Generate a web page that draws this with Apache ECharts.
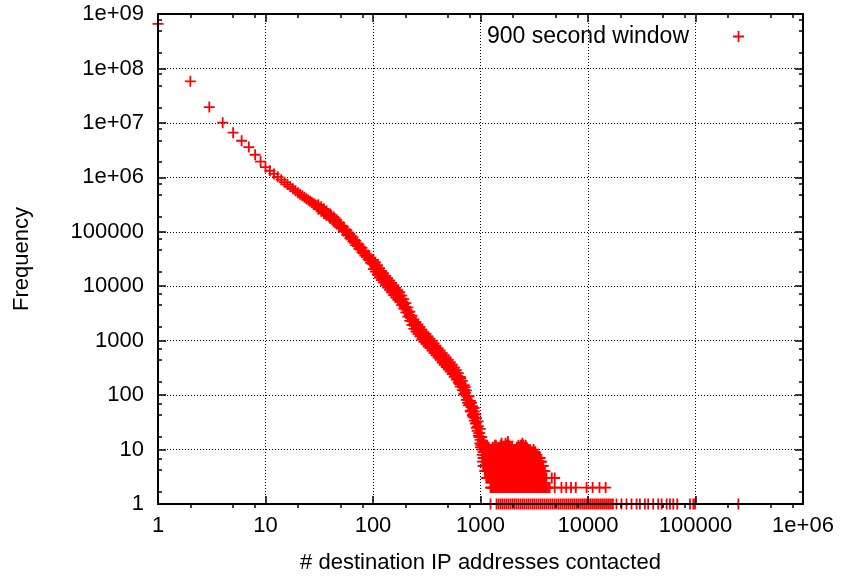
<!DOCTYPE html>
<html>
<head>
<meta charset="utf-8">
<script src="https://cdn.jsdelivr.net/npm/echarts@6/dist/echarts.min.js"></script>
<style>
html, body { margin: 0; padding: 0; background: #fff; }
#chart { width: 843px; height: 579px; }
</style>
</head>
<body>
<div id="chart"></div>
<script>
// 900 second window: how many hosts contacted N destination addresses
var seriesName = '900 second window';

// main curve
var curveX = [1, 2, 3, 4, 5, 6, 7, 8, 9, 10, 11, 12, 13, 14, 15, 16, 17, 18, 19, 20,
	21, 22, 23, 24, 25, 26, 27, 28, 29, 30, 31, 32, 33, 34, 35, 36, 37, 38, 39, 40,
	41, 42, 43, 44, 45, 46, 47, 48, 49, 50, 52, 54, 56, 58, 60, 62, 64, 66, 68, 70,
	72, 74, 77, 80, 83, 86, 89, 92, 95, 98,
	100, 103, 106, 109, 112, 115, 118, 121, 125, 129, 133, 137, 141, 145, 150, 155, 160, 165, 170, 176,
	182, 188, 194, 200, 206, 212, 218, 225, 232, 239, 246, 254, 262, 270, 279, 288, 297, 306, 316, 326,
	336, 347, 358, 369, 381, 393, 405, 418, 431, 445, 459, 473, 488, 503, 519, 535, 552, 569, 587, 605,
	624, 643, 663, 683, 704, 725, 747, 769, 792, 815, 839, 863, 888, 913, 939, 965, 992];
var curveY = [6.6e8, 5.8e7, 1.95e7, 1.01e7, 6.6e6, 4.7e6, 3.6e6, 2.6e6, 1.95e6,
	1540000, 1320000, 1155000, 1020000, 905000, 815000, 738000, 672000, 615000, 566000, 523000,
	487000, 457000, 430000, 406000, 384000, 364000, 346000, 329000, 314000, 300000,
	286000, 273000, 261000, 250000, 239000, 229000, 219000, 210000, 201000, 193000,
	185000, 178000, 171000, 164000, 158000, 151000, 144000, 138000, 133000, 128000,
	118000, 109000, 101000, 93500, 87000, 81000, 75500, 70500, 65500, 61000,
	57000, 53500, 48500, 44500, 41000, 37500, 34500, 32000, 29500, 27000,
	25700, 23800, 22000, 20400, 18900, 17600, 16400, 15300, 14200, 13200,
	12300, 11500, 10900, 10100, 9300, 8600, 7950, 7390, 6950, 6460,
	5800, 5200, 4660, 4180, 3730, 3310, 2940, 2560, 2270, 2020,
	1880, 1740, 1620, 1510, 1370, 1240, 1160, 1100, 1035, 973,
	914, 848, 789, 733, 676, 631, 592, 553, 512, 473,
	440, 411, 385, 362, 339, 314, 290, 267, 245, 225,
	204, 182, 163, 144, 127, 110, 94, 80, 68, 60,
	52, 45, 38, 31, 26, 20, 15];

// points lying above and below the curve (they make the band thick)
var spreadX = [31, 33, 35, 37, 40, 43, 46, 49, 53, 57, 61, 65, 69, 74, 79, 84, 90, 95,
	101, 105, 110, 115, 120, 125, 131, 137, 143, 149, 156, 163, 170, 177, 185, 193, 202, 211,
	220, 230, 240, 251, 262, 273, 285, 298, 311, 325, 339, 354, 370, 386, 403, 421,
	440, 460, 480, 501, 523, 546, 570, 595, 621, 649, 677, 707, 738, 771, 804, 840,
	876, 915, 955, 985];
var spreadHigh = [315000, 287000, 263000, 241000, 212000, 188000, 166000, 146000, 124000, 107000,
	92000, 80000, 69000, 58800, 50600, 44000, 37400, 32500,
	30600, 27600, 24300, 21500, 19100, 17300, 15500, 14000, 12800, 11500, 10300, 9300,
	8500, 7750, 6700, 5800, 4900, 4100, 3400, 2870, 2450, 2180, 1980, 1790,
	1560, 1410, 1330, 1195, 1090, 990, 890, 800, 730, 665,
	590, 535, 488, 445, 405, 364, 323, 288, 254, 215, 183, 152, 122, 96, 78, 63,
	50, 38, 27, 20];
var spreadLow = [260000, 237000, 217000, 199000, 175000, 155000, 137000, 121000, 103000, 88000,
	76000, 66000, 57000, 48600, 41800, 36400, 30900, 26800,
	20600, 18500, 16300, 14400, 12900, 11600, 10400, 9400, 8600, 7750, 6900, 6200,
	5700, 5200, 4500, 3900, 3300, 2770, 2300, 1930, 1640, 1470, 1330, 1200,
	1050, 950, 890, 800, 735, 665, 600, 537, 490, 447,
	396, 359, 328, 300, 272, 244, 217, 193, 170, 144, 123, 102, 82, 65, 52, 43,
	34, 25, 18, 13];

// scattered points where the curve runs into the noise
var noiseX = [640, 655, 700, 720, 760, 780, 810, 825, 850, 870, 895, 905, 930, 950, 975, 995, 1000, 1010, 1025];
var noiseY = [160, 200, 105, 140, 72, 95, 50, 72, 40, 58, 30, 44, 22, 33, 17, 24, 11, 12, 17];

// the dense block between 1000 and 4500: each column and the counts seen in it
var cloudX = [1040, 1075, 1115, 1150, 1190, 1235, 1275, 1320, 1365, 1415, 1465, 1515, 1570, 1625, 1680,
	1740, 1800, 1865, 1930, 1995, 2065, 2140, 2215, 2290, 2370, 2455, 2540, 2630, 2720, 2815,
	2915, 3015, 3120, 3230, 3345, 3460, 3580, 3705, 3835, 3970, 4110, 4250, 4400];
var cloudLevels = [
	[6, 8, 10, 12, 14], [5, 7, 9, 11, 13], [4, 6, 8, 10, 12], [3, 4, 6, 8, 10, 12], [3, 4, 6, 8, 10, 11],
	[3, 4, 6, 8, 10], [2, 3, 4, 6, 8, 10], [2, 3, 4, 6, 8, 10], [2, 3, 4, 6, 8, 10, 12], [2, 3, 4, 6, 8, 10, 11],
	[2, 3, 4, 6, 8, 10], [2, 3, 4, 6, 8, 10], [2, 3, 4, 6, 8, 10, 13], [2, 3, 4, 6, 8, 10, 11], [2, 3, 4, 6, 8, 10],
	[2, 3, 4, 6, 8, 10, 12], [2, 3, 4, 6, 8, 10, 12, 14], [2, 3, 4, 6, 8, 10, 11], [2, 3, 4, 6, 8, 9], [2, 3, 4, 6, 8, 10],
	[2, 3, 4, 6, 8, 9], [2, 3, 4, 6, 8, 10], [2, 3, 4, 6, 8, 10], [2, 3, 4, 6, 8, 10, 11], [2, 3, 4, 6, 8, 10, 12],
	[2, 3, 4, 6, 8, 10, 13], [2, 3, 4, 6, 8, 10, 11], [2, 3, 4, 6, 8, 10, 12], [2, 3, 4, 6, 8, 10], [2, 3, 4, 6, 8, 9],
	[2, 3, 4, 6, 8, 9], [2, 3, 4, 6, 8], [2, 3, 4, 6, 8, 10], [2, 3, 4, 6, 8, 9], [2, 3, 4, 6, 8],
	[2, 3, 4, 6, 7], [2, 3, 4, 6, 7], [2, 3, 4, 6], [2, 3, 4, 5], [2, 3, 4],
	[2, 3], [2], [2]];
var cloudMidX = [1057, 1095, 1132, 1170, 1212, 1255, 1297, 1342, 1390, 1440, 1490, 1542, 1597, 1652, 1710,
	1770, 1832, 1897, 1962, 2030, 2102, 2177, 2252, 2330, 2412, 2497, 2585, 2675, 2767, 2865,
	2965, 3067, 3175, 3287, 3402, 3520, 3642, 3770, 3902, 4040];
var cloudMidLevels = [
	[5, 7, 9, 11, 13], [4, 5, 7, 9, 11], [3, 5, 7, 9, 11], [3, 5, 7, 9, 11], [3, 5, 7, 9],
	[2, 3, 5, 7, 9], [2, 3, 5, 7, 9, 11], [2, 3, 5, 7, 9, 11], [2, 3, 5, 7, 9, 12], [2, 3, 5, 7, 9],
	[2, 3, 5, 7, 9, 11], [2, 3, 5, 7, 9, 12], [2, 3, 5, 7, 9, 11], [2, 3, 5, 7, 9, 11], [2, 3, 5, 7, 9, 13],
	[2, 3, 5, 7, 9, 11], [2, 3, 5, 7, 9, 12], [2, 3, 5, 7, 9, 10], [2, 3, 5, 7, 9, 11], [2, 3, 5, 7, 9],
	[2, 3, 5, 7, 9, 10], [2, 3, 5, 7, 9, 11], [2, 3, 5, 7, 9, 12], [2, 3, 5, 7, 9, 11], [2, 3, 5, 7, 9, 12],
	[2, 3, 5, 7, 9, 12], [2, 3, 5, 7, 9, 11], [2, 3, 5, 7, 9, 11], [2, 3, 5, 7, 9, 10], [2, 3, 5, 7, 9],
	[2, 3, 5, 7, 9], [2, 3, 5, 7, 9], [2, 3, 5, 7, 9], [2, 3, 5, 7, 8], [2, 3, 5, 7],
	[2, 3, 5, 7], [2, 3, 5, 6], [2, 3, 5], [2, 3, 4], [2, 3]];

// lone points with a count of 2 or 3 right of the block
var twoX = [1240, 4900, 5660, 6270, 6950, 7700, 9700, 11050, 12800, 14600];
var threeX = [4600, 4900];

// hosts seen exactly once
var oneX = [1240, 1410, 1470, 1535, 1600, 1670, 1745, 1820, 1900, 1985, 2070, 2160, 2255, 2355, 2460,
	2565, 2680, 2795, 2920, 3050, 3180, 3320, 3470, 3620, 3780, 3945, 4120, 4300, 4490, 4690,
	4895, 5110, 5335, 5570, 5815, 6070, 6340, 6620, 6910, 7215, 7530, 7860, 8210, 8570, 8950,
	9340, 9750, 10180, 10630, 11100, 11590, 12100, 12630, 13190, 13770, 14370, 15000, 15660, 16350, 17070,
	18400, 20500, 22800, 25400, 28300, 30400, 33800, 36300, 40400, 45000, 48400, 53900, 57900, 62100, 67700,
	88900, 95500, 99000, 250600];

// minor tick positions (gnuplot puts them at 2, 5 and 8 of each decade)
var xMinor = [2, 5, 8, 20, 50, 80, 200, 500, 800, 2000, 5000, 8000, 20000, 50000, 80000, 200000, 500000, 800000];
var yMinor = [2, 5, 8, 20, 50, 80, 200, 500, 800, 2000, 5000, 8000, 20000, 50000, 80000,
	2e5, 5e5, 8e5, 2e6, 5e6, 8e6, 2e7, 5e7, 8e7, 2e8, 5e8, 8e8];

var points = [];
curveX.forEach(function(x, i) { points.push([x, curveY[i]]); });
spreadX.forEach(function(x, i) { points.push([x, spreadHigh[i]], [x, spreadLow[i]]); });
noiseX.forEach(function(x, i) { points.push([x, noiseY[i]]); });
cloudX.forEach(function(x, i) {
	cloudLevels[i].forEach(function(y) { points.push([x, y]); });
});
cloudMidX.forEach(function(x, i) {
	cloudMidLevels[i].forEach(function(y) { points.push([x, y]); });
});
twoX.forEach(function(x) { points.push([x, 2]); });
threeX.forEach(function(x) { points.push([x, 3]); });
oneX.forEach(function(x) { points.push([x, 1]); });

var font = 'Liberation Sans';
var plus = 'path://M0,4.6 L11,4.6 L11,6.4 L0,6.4 Z M4.6,0 L6.4,0 L6.4,11 L4.6,11 Z';
// key sample: the plus sits at the right end of a 50px wide slot
var keyPlus = 'path://M0,5.4 L0.02,5.4 L0.02,5.6 Z M39,4.6 L50,4.6 L50,6.4 L39,6.4 Z M43.6,0 L45.4,0 L45.4,11 L43.6,11 Z';
var box = { left: 158, top: 14, width: 645, height: 494, containLabel: false };

function logLabel(v) {
	var e = Math.round(Math.log10(v));
	if (e >= 6) return '1e+' + (e < 10 ? '0' : '') + e;
	return String(Math.round(v));
}

function axis(kind, grid, pos, opts) {
	var a = {
		type: 'log', logBase: 10, gridIndex: grid, position: pos,
		min: 1, max: kind == 'x' ? 1e6 : 1e9,
		axisLine: { show: true, onZero: false, lineStyle: { color: '#000', width: 2 } },
		axisTick: { show: true, inside: true, length: 8, lineStyle: { color: '#000', width: 1.5 } },
		axisLabel: { show: false },
		splitLine: { show: false },
		minorTick: { show: false }
	};
	for (var k in opts) a[k] = opts[k];
	return a;
}

var labelStyle = { show: true, fontFamily: font, fontSize: 22, color: '#000', formatter: logLabel };
var gridDots = { show: true, lineStyle: { color: '#000', width: 1, type: [1, 2] } };
var minorTick = function(vals) {
	return { show: true, inside: true, length: 4, customValues: vals, lineStyle: { color: '#000', width: 1.5 } };
};

var myChart = echarts.init(document.getElementById('chart'));

option = {
	backgroundColor: '#fff',
	animation: false,
	grid: [box, box],
	legend: {
		data: [seriesName],
		left: 487,
		top: 25,
		padding: 0,
		align: 'right',
		icon: keyPlus,
		itemWidth: 50,
		itemHeight: 11,
		selectedMode: false,
		itemStyle: { color: '#ff0000' },
		textStyle: { fontFamily: font, fontSize: 23, color: '#000' }
	},
	xAxis: [
		axis('x', 0, 'bottom', {
			z: 3,
			axisLabel: Object.assign({ margin: 11 }, labelStyle),
			name: '# destination IP addresses contacted',
			nameLocation: 'middle',
			nameGap: 48,
			nameTextStyle: { fontFamily: font, fontSize: 22, color: '#000' }
		}),
		axis('x', 0, 'top', { z: 0, splitLine: gridDots }),
		axis('x', 1, 'bottom', { z: 3, axisLine: { show: false }, axisTick: minorTick(xMinor) }),
		axis('x', 1, 'top', { z: 0, axisLine: { show: false }, axisTick: minorTick(xMinor) })
	],
	yAxis: [
		axis('y', 0, 'left', {
			z: 3,
			axisLabel: Object.assign({ margin: 14 }, labelStyle),
			name: 'Frequency',
			nameLocation: 'middle',
			nameGap: 125,
			nameTextStyle: { fontFamily: font, fontSize: 22, color: '#000' }
		}),
		axis('y', 0, 'right', { z: 0, splitLine: gridDots }),
		axis('y', 1, 'left', { z: 3, axisLine: { show: false }, axisTick: minorTick(yMinor) }),
		axis('y', 1, 'right', { z: 0, axisLine: { show: false }, axisTick: minorTick(yMinor) })
	],
	series: [{
		name: seriesName,
		type: 'scatter',
		xAxisIndex: 0,
		yAxisIndex: 0,
		symbol: plus,
		symbolSize: 11,
		itemStyle: { color: '#ff0000', opacity: 1 },
		emphasis: { disabled: true },
		data: points
	}]
};

myChart.setOption(option);
</script>
</body>
</html>
